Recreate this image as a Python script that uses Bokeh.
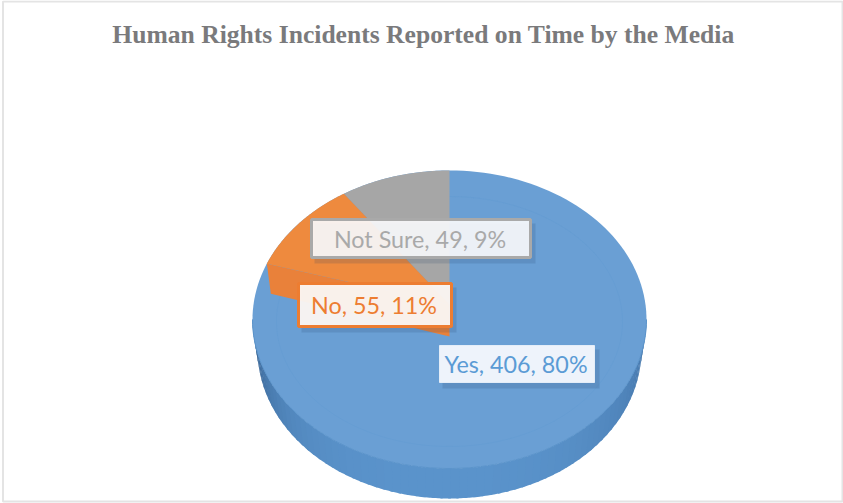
import numpy as np
from bokeh.plotting import figure
from bokeh.embed import file_html
from bokeh.resources import INLINE
from bokeh.core.properties import value

TITLE = "Human Rights Incidents Reported on Time by the Media"
categories = ["Yes", "No", "Not Sure"]
counts = [406, 55, 49]
percents = [80, 11, 9]
labels = [f"{c}, {n}, {s}%" for c, n, s in zip(categories, counts, percents)]

W, H = 843, 503
CX, CY, RX, RY, DEPTH = 449, 319, 197, 149, 30
LIFT = 15  # the "No" slice and its neighbour sit slightly raised

p = figure(width=W, height=H, x_range=(0, W), y_range=(H, 0), toolbar_location=None,
           output_backend="svg", min_border=0, outline_line_color=None)
p.axis.visible = False
p.grid.visible = False
p.background_fill_color = "white"
p.border_fill_color = "white"


def arc(a0, a1, n=60, cy=CY, rx=RX, ry=RY):
    """Angles in degrees, clockwise from twelve o'clock."""
    t = np.radians(np.linspace(a0, a1, n))
    return CX + rx * np.sin(t), cy - ry * np.cos(t)


def mix(c1, c2, f):
    c = [round(a + (b - a) * f) for a, b in zip(c1, c2)]
    return "#%02x%02x%02x" % tuple(c)


# chart frame
p.quad(left=[2.5], right=[842], top=[1], bottom=[501], fill_color=None,
       line_color="#e4e4e4", line_width=2)

# slice angles from the data (clockwise, Yes starts at 12 o'clock)
ang = np.cumsum([0] + percents) * 3.6
no_a0, no_a1 = ang[1], ang[2]
ns_a0, ns_a1 = ang[2], ang[3]

# side wall, shaded strips along the front half (bottom rim slightly narrower)
dark, mid, right = (48, 88, 134), (90, 147, 203), (66, 114, 166)
steps = np.linspace(90, 270, 73)
for a, b in zip(steps[:-1], steps[1:]):
    m = (a + b) / 2
    if m > 180:
        col = mix(mid, dark, ((m - 180) / 90) ** 3.2)
    else:
        col = mix(mid, right, ((180 - m) / 90) ** 2.2)
    x0, y0 = arc(a - 0.4, b + 0.4, 6)
    x1, y1 = arc(a - 0.4, b + 0.4, 6, cy=CY + DEPTH, rx=RX - 5)
    p.patch(np.r_[x0, x1[::-1]], np.r_[y0, y1[::-1]], fill_color=col, line_color=None)

# top face of the large slice (full ellipse, the others lie on top)
tx, ty = arc(0, 360, 180)
p.patch(tx, ty, fill_color="#6a9fd4", line_color=None)
lx, ly = arc(90, 270, 90)
p.line(lx, ly, line_color="#5b94cb", line_width=1)
rx_, ry_ = arc(0, 360, 180, cy=CY + 2, rx=RX - 24, ry=RY - 24)
p.line(rx_, ry_, line_color="#5e97cf", line_width=1, line_alpha=0.3)

# Not Sure slice
ax, ay = arc(ns_a0, ns_a1)
p.patch(np.r_[ax, CX], np.r_[ay, CY - LIFT], fill_color="#a6a6a6", line_color=None)

# No slice: exposed wall, then raised top face
wx, wy = arc(no_a0 + 4, no_a0 + 4, 1)
p.patch([wx[0], wx[0] + 4, CX, CX],
        [wy[0], wy[0] + DEPTH, CY - LIFT + DEPTH + 2, CY - LIFT],
        fill_color="#e9813a", line_color=None)
ox, oy = arc(no_a0 + 4, no_a1)
p.patch(np.r_[ox, CX], np.r_[oy, CY - LIFT], fill_color="#ee8a3e", line_color=None)


def label(left, right, top, bottom, text, fill, border, color, bw, alpha=0.92):
    p.quad(left=[left + 3], right=[right + 5], top=[top + 4], bottom=[bottom + 6],
           fill_color="#1f3f66", fill_alpha=0.16, line_color=None)
    p.quad(left=[left], right=[right], top=[top], bottom=[bottom], fill_color=fill,
           fill_alpha=alpha, line_color=border, line_width=bw)
    p.text(x=[(left + right) / 2 - 1], y=[(top + bottom) / 2], text=[text],
           text_font=value("Lato"), text_font_size="23.3px", text_color=color,
           text_align="center", text_baseline="middle")


label(311, 530, 219, 257, labels[2], "#f8f9fb", "#a9a9a9", "#a9a9a9", 3)
label(298, 451, 283, 326, labels[1], "#fbf6f3", "#ed7d31", "#ed7d31", 3, 0.96)
label(439, 594, 345, 382, labels[0], "#eef3fb", "#e4edf8", "#5b9bd5", 1, 1.0)

p.text(x=[423], y=[34], text=[TITLE], text_font=value("Liberation Serif"),
       text_font_style="bold", text_font_size="25.6px", text_color="#7a7a7c",
       text_align="center", text_baseline="middle")

open("out.html", "w").write(file_html(p, INLINE))
